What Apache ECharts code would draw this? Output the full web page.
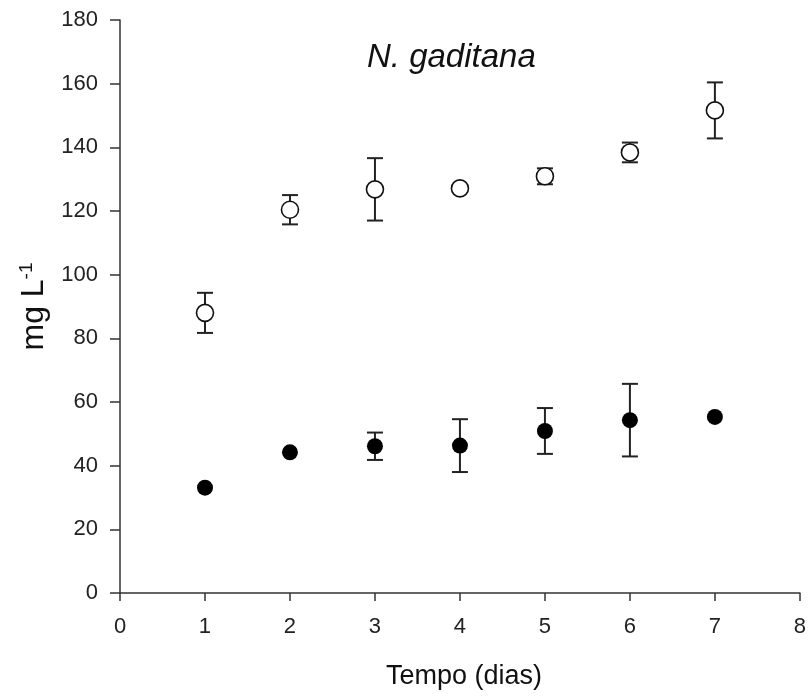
<!DOCTYPE html>
<head>
<meta charset="utf-8">
<title>N. gaditana</title>
<style type="text/css">
    *{ margin:0; padding:0; }
    html,body{ height:100%; width:100%; background:#fff; }
    #main{ width:809px; height:697px; }
</style>
</head>
<body>
<div id="main"></div>
<script src="https://cdn.jsdelivr.net/npm/echarts@6/dist/echarts.min.js"></script>
<script type="text/javascript">
    // dias
    var days = [1, 2, 3, 4, 5, 6, 7];
    // circulos abiertos
    var openMean = [88.0, 120.4, 126.8, 127.1, 130.9, 138.4, 151.6];
    var openSd   = [6.3, 4.6, 9.8, 1.0, 2.5, 3.1, 8.8];
    // circulos llenos
    var fullMean = [33.1, 44.2, 46.1, 46.3, 50.9, 54.3, 55.3];
    var fullSd   = [0.5, 0.8, 4.3, 8.3, 7.2, 11.4, 1.0];

    var xTicks = [0, 1, 2, 3, 4, 5, 6, 7, 8];
    var yTicks = [0, 20, 40, 60, 80, 100, 120, 140, 160, 180];

    var FONT = 'Liberation Sans, Arial, sans-serif';

    function pairs(m){
        return days.map(function(d, i){ return [d, m[i]]; });
    }
    function bars(m, s){
        return days.map(function(d, i){ return [d, m[i] - s[i], m[i] + s[i]]; });
    }

    // barras de error con tope (las que quedan bajo el simbolo no se dibujan)
    function renderErr(params, api){
        var lo = api.coord([api.value(0), api.value(1)]);
        var hi = api.coord([api.value(0), api.value(2)]);
        if (Math.abs(lo[1] - hi[1]) < 8) return null;
        var w = 8;
        var st = { stroke: '#222', lineWidth: 2 };
        return {
            type: 'group',
            children: [
                { type: 'line', shape: { x1: lo[0], y1: lo[1], x2: hi[0], y2: hi[1] }, style: st },
                { type: 'line', shape: { x1: lo[0] - w, y1: lo[1], x2: lo[0] + w, y2: lo[1] }, style: st },
                { type: 'line', shape: { x1: hi[0] - w, y1: hi[1], x2: hi[0] + w, y2: hi[1] }, style: st }
            ]
        };
    }

    var myChart = echarts.init(document.getElementById('main'));

    var option = {
        animation: false,
        backgroundColor: '#fff',
        title: {
            text: 'N. gaditana',
            left: 362,
            top: 36,
            textStyle: { fontSize: 33, fontStyle: 'italic', fontWeight: 'normal', color: '#111', fontFamily: FONT }
        },
        grid: { left: 120, right: 4, top: 20, bottom: 104 },
        xAxis: {
            type: 'value',
            min: xTicks[0],
            max: xTicks[xTicks.length - 1],
            interval: 1,
            name: 'Tempo (dias)',
            nameLocation: 'middle',
            nameGap: 70,
            nameTextStyle: { fontSize: 27, color: '#111', fontFamily: FONT, padding: [0, 0, 0, 8] },
            axisLine: { show: true, lineStyle: { color: '#333', width: 1.5 } },
            axisTick: { show: true, length: 8, lineStyle: { color: '#333', width: 1.5 } },
            splitLine: { show: false },
            axisLabel: { color: '#222', fontSize: 22, fontFamily: FONT, margin: 23 }
        },
        yAxis: {
            type: 'value',
            min: yTicks[0],
            max: yTicks[yTicks.length - 1],
            interval: 20,
            name: '{a|mg L}{b|-1}',
            nameLocation: 'middle',
            nameRotate: 90,
            nameGap: 66,
            nameTextStyle: {
                color: '#111',
                rich: {
                    a: { fontSize: 32, fontFamily: FONT, color: '#111' },
                    b: { fontSize: 19, fontFamily: FONT, color: '#111', padding: [0, 0, 16, 0] }
                }
            },
            axisLine: { show: true, lineStyle: { color: '#333', width: 1.5 } },
            axisTick: { show: true, length: 10, lineStyle: { color: '#333', width: 1.5 } },
            splitLine: { show: false },
            axisLabel: { color: '#222', fontSize: 22, fontFamily: FONT, margin: 22 }
        },
        series: [
            { type: 'custom', renderItem: renderErr, data: bars(openMean, openSd), z: 2 },
            { type: 'custom', renderItem: renderErr, data: bars(fullMean, fullSd), z: 2 },
            {
                type: 'scatter',
                data: pairs(openMean),
                symbol: 'circle',
                symbolSize: 17,
                itemStyle: { color: '#fff', borderColor: '#111', borderWidth: 1.6, opacity: 1 },
                z: 3
            },
            {
                type: 'scatter',
                data: pairs(fullMean),
                symbol: 'circle',
                symbolSize: 16,
                itemStyle: { color: '#000', opacity: 1 },
                z: 3
            }
        ]
    };
    myChart.setOption(option);
</script>
</body>
</html>
